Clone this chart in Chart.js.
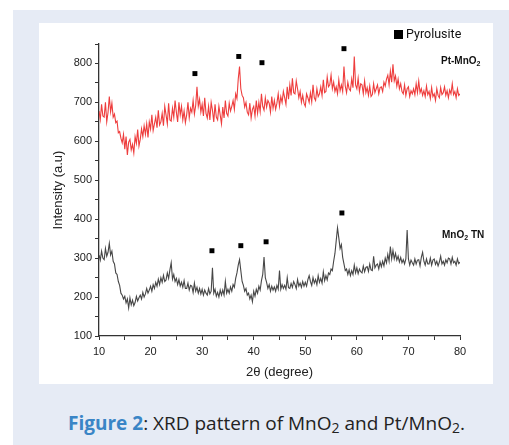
<!DOCTYPE html>
<html>
<head>
<meta charset="utf-8">
<script src="https://cdn.jsdelivr.net/npm/chart.js@4.4.0/dist/chart.umd.min.js"></script>
<style>
  body { margin: 0; width: 509px; height: 445px; background: #fff; overflow: hidden; position: relative; }
  #panel { position: absolute; left: 13px; top: 10px; width: 496px; height: 435px; background: #e6ebf5; }
  #box { position: absolute; left: 39px; top: 23px; width: 454px; height: 361px; background: #fff; }
  #xrd { position: absolute; left: 39px; top: 23px; }
  .tag { position: absolute; font: bold 10px "Liberation Sans", Arial, sans-serif; color: #111; white-space: nowrap; }
  .tag sub { font-size: 7px; vertical-align: -2px; }
  #legend { position: absolute; left: 394px; top: 26px; font: 12.5px Roboto, Arial, sans-serif; color: #111; white-space: nowrap; line-height: 16px; }
  #legend span { display: inline-block; width: 9px; height: 9px; background: #000; margin-right: 3px; vertical-align: -1px; }
  #caption { position: absolute; left: 0; width: 533px; top: 410px; text-align: center;
             font: 19px "Open Sans", sans-serif; color: #222; white-space: nowrap; }
  #caption b { color: #3a85c6; font-weight: 700; }
  #caption sub { font-size: 14px; vertical-align: -3px; }
</style>
</head>
<body>
<div id="panel"></div>
<div id="box"></div>
<canvas id="xrd" width="454" height="361"></canvas>
<div id="legend"><span></span>Pyrolusite</div>
<div class="tag" style="left:441px; top:55px;">Pt-MnO<sub>2</sub></div>
<div class="tag" style="left:442px; top:229px;">MnO<sub>2</sub> TN</div>
<div id="caption"><b>Figure 2</b>: XRD pattern of MnO<sub>2</sub> and Pt/MnO<sub>2</sub>.</div>
<script>
// 2theta (degree), one row per degree
const twoTheta = [
  10, 10.25, 10.5, 10.75,  11, 11.25, 11.5, 11.75,  12, 12.25, 12.5, 12.75,  13, 13.25, 13.5, 13.75,
  14, 14.25, 14.5, 14.75,  15, 15.25, 15.5, 15.75,  16, 16.25, 16.5, 16.75,  17, 17.25, 17.5, 17.75,
  18, 18.25, 18.5, 18.75,  19, 19.25, 19.5, 19.75,  20, 20.25, 20.5, 20.75,  21, 21.25, 21.5, 21.75,
  22, 22.25, 22.5, 22.75,  23, 23.25, 23.5, 23.75,  24, 24.25, 24.5, 24.75,  25, 25.25, 25.5, 25.75,
  26, 26.25, 26.5, 26.75,  27, 27.25, 27.5, 27.75,  28, 28.25, 28.5, 28.75,  29, 29.25, 29.5, 29.75,
  30, 30.25, 30.5, 30.75,  31, 31.25, 31.5, 31.75,  32, 32.25, 32.5, 32.75,  33, 33.25, 33.5, 33.75,
  34, 34.25, 34.5, 34.75,  35, 35.25, 35.5, 35.75,  36, 36.25, 36.5, 36.75,  37, 37.25, 37.5, 37.75,
  38, 38.25, 38.5, 38.75,  39, 39.25, 39.5, 39.75,  40, 40.25, 40.5, 40.75,  41, 41.25, 41.5, 41.75,
  42, 42.25, 42.5, 42.75,  43, 43.25, 43.5, 43.75,  44, 44.25, 44.5, 44.75,  45, 45.25, 45.5, 45.75,
  46, 46.25, 46.5, 46.75,  47, 47.25, 47.5, 47.75,  48, 48.25, 48.5, 48.75,  49, 49.25, 49.5, 49.75,
  50, 50.25, 50.5, 50.75,  51, 51.25, 51.5, 51.75,  52, 52.25, 52.5, 52.75,  53, 53.25, 53.5, 53.75,
  54, 54.25, 54.5, 54.75,  55, 55.25, 55.5, 55.75,  56, 56.25, 56.5, 56.75,  57, 57.25, 57.5, 57.75,
  58, 58.25, 58.5, 58.75,  59, 59.25, 59.5, 59.75,  60, 60.25, 60.5, 60.75,  61, 61.25, 61.5, 61.75,
  62, 62.25, 62.5, 62.75,  63, 63.25, 63.5, 63.75,  64, 64.25, 64.5, 64.75,  65, 65.25, 65.5, 65.75,
  66, 66.25, 66.5, 66.75,  67, 67.25, 67.5, 67.75,  68, 68.25, 68.5, 68.75,  69, 69.25, 69.5, 69.75,
  70, 70.25, 70.5, 70.75,  71, 71.25, 71.5, 71.75,  72, 72.25, 72.5, 72.75,  73, 73.25, 73.5, 73.75,
  74, 74.25, 74.5, 74.75,  75, 75.25, 75.5, 75.75,  76, 76.25, 76.5, 76.75,  77, 77.25, 77.5, 77.75,
  78, 78.25, 78.5, 78.75,  79, 79.25, 79.5, 79.75,  80
];

// Pt-MnO2 intensity (red trace)
const ptMnO2 = [
  678, 656, 695, 665,  662, 700, 650, 674,  715, 676, 698, 662,  670, 648, 652, 622,
  625, 608, 596, 618,  580, 612, 565, 598,  605, 578, 592, 570,  612, 595, 630, 588,
  605, 632, 612, 640,  618, 645, 610, 650,  632, 668, 628, 645,  662, 635, 680, 642,
  650, 672, 640, 690,  668, 645, 698, 655,  652, 685, 662, 705,  675, 650, 700, 668,
  690, 655, 678, 648,  668, 700, 660, 685,  675, 705, 670, 692,  740, 690, 708, 675,
  695, 665, 712, 672,  660, 690, 655, 700,  680, 650, 695, 662,  655, 690, 668, 645,
  688, 660, 705, 672,  665, 698, 678, 690,  705, 682, 722, 710,  760, 792, 735, 718,
  712, 688, 700, 675,  668, 698, 660, 682,  690, 665, 705, 672,  700, 676, 722, 690,
  680, 712, 688, 705,  698, 675, 715, 685,  705, 682, 698, 722,  690, 715, 700, 728,
  712, 695, 740, 708,  745, 718, 762, 725,  722, 755, 735, 712,  728, 700, 718, 698,
  690, 722, 712, 700,  725, 702, 745, 712,  705, 735, 715, 722,  740, 718, 758, 725,
  728, 765, 740, 745,  770, 735, 752, 728,  740, 722, 758, 730,  745, 728, 792, 742,
  725, 752, 735, 730,  760, 738, 818, 745,  735, 762, 728, 748,  745, 722, 755, 725,
  738, 718, 742, 715,  720, 748, 725, 735,  745, 722, 738, 740,  728, 752, 742, 760,
  770, 745, 780, 752,  798, 755, 768, 742,  760, 735, 748, 728,  722, 745, 718, 735,
  740, 715, 730, 722,  735, 720, 748, 725,  755, 725, 735, 718,  730, 715, 742, 720,
  728, 710, 738, 715,  722, 705, 735, 718,  712, 738, 720, 725,  740, 718, 730, 712,
  732, 722, 748, 720,  728, 712, 735, 718,  722
];

// MnO2 TN intensity (grey trace)
const mnO2TN = [
  308, 295, 318, 300,  296, 325, 305, 315,  338, 308, 318, 292,  285, 262, 258, 240,
  230, 210, 205, 195,  202, 185, 195, 172,  198, 180, 192, 178,  186, 202, 190, 198,
  205, 195, 212, 200,  208, 222, 210, 218,  228, 215, 232, 222,  238, 228, 246, 232,
  250, 238, 256, 240,  244, 262, 248, 270,  288, 246, 258, 240,  248, 232, 245, 228,
  238, 225, 242, 222,  222, 236, 218, 230,  228, 212, 236, 215,  225, 210, 222, 208,
  220, 205, 218, 210,  205, 222, 208, 215,  275, 210, 220, 202,  212, 200, 218, 205,
  218, 205, 240, 210,  220, 210, 226, 215,  232, 225, 248, 262,  282, 296, 268, 240,
  230, 215, 222, 205,  210, 195, 205, 188,  215, 202, 220, 210,  228, 218, 242, 258,
  303, 250, 238, 222,  232, 215, 228, 218,  226, 215, 230, 220,  268, 220, 232, 222,
  230, 220, 250, 224,  222, 235, 225, 240,  232, 222, 245, 228,  236, 225, 240, 228,
  238, 228, 245, 255,  240, 230, 250, 236,  245, 232, 255, 238,  248, 236, 265, 242,
  255, 244, 262, 258,  272, 268, 292, 312,  345, 378, 352, 325,  335, 302, 285, 268,
  272, 258, 270, 255,  268, 258, 282, 262,  275, 260, 272, 265,  262, 280, 265, 276,
  278, 266, 285, 270,  268, 305, 275, 282,  285, 272, 290, 278,  292, 280, 300, 288,
  310, 292, 330, 298,  320, 298, 312, 295,  305, 290, 302, 288,  296, 285, 298, 372,
  298, 282, 295, 288,  282, 298, 285, 295,  296, 280, 302, 315,  292, 282, 298, 285,
  285, 300, 282, 295,  298, 284, 292, 280,  290, 305, 285, 292,  282, 296, 288, 300,
  298, 285, 302, 288,  292, 282, 298, 286,  290
];

// pyrolusite reflections marked above each trace
const pyroTopX = [28.6, 37.1, 41.6, 57.5];
const pyroTopY = [774, 818, 802, 838];
const pyroLowX = [31.9, 37.5, 42.4, 57.1];
const pyroLowY = [319, 332, 342, 416];

const xTicks = [10, 20, 30, 40, 50, 60, 70, 80];
const yTicks = [100, 200, 300, 400, 500, 600, 700, 800];

const toPoints = (xs, ys) => xs.map((x, i) => ({ x: x, y: ys[i] }));
const markers = toPoints(pyroTopX, pyroTopY).concat(toPoints(pyroLowX, pyroLowY));

const axisFont = { family: '"Liberation Sans", Arial, sans-serif', size: 11 };

const ctx = document.getElementById('xrd').getContext('2d');
const xrdChart = new Chart(ctx, {
    type: 'line',
    data: {
        datasets: [
            {
                label: 'Pt-MnO2',
                data: toPoints(twoTheta, ptMnO2),
                borderColor: '#ee3d3d',
                borderWidth: 1.1,
                pointRadius: 0,
                tension: 0
            },
            {
                label: 'MnO2 TN',
                data: toPoints(twoTheta, mnO2TN),
                borderColor: '#474747',
                borderWidth: 1.1,
                pointRadius: 0,
                tension: 0
            },
            {
                label: 'Pyrolusite',
                type: 'scatter',
                data: markers,
                pointStyle: 'rect',
                pointRadius: 3.5,
                backgroundColor: '#000',
                borderColor: '#000',
                borderWidth: 0
            }
        ]
    },
    options: {
        responsive: false,
        animation: false,
        devicePixelRatio: 1,
        layout: { padding: { left: 0, right: 33, top: 21, bottom: 0 } },
        plugins: {
            tooltip: { enabled: false },
            legend: { display: false }
        },
        scales: {
            x: {
                type: 'linear',
                min: 10,
                max: 80,
                ticks: {
                    stepSize: 5,
                    color: '#222',
                    font: axisFont,
                    padding: 5,
                    maxRotation: 0,
                    autoSkip: false,
                    callback: v => xTicks.includes(v) ? v : ''
                },
                grid: { drawOnChartArea: false, tickLength: 4, tickColor: '#333' },
                border: { color: '#333', width: 1.3 },
                title: { display: true, text: '2θ (degree)', color: '#222', font: { family: axisFont.family, size: 13 }, padding: { top: 6 } },
                afterFit: s => { s.height = 48; }
            },
            y: {
                min: 100,
                max: 850,
                ticks: {
                    stepSize: 50,
                    color: '#222',
                    font: axisFont,
                    padding: 3,
                    autoSkip: false,
                    callback: v => yTicks.includes(v) ? v : ''
                },
                grid: { drawOnChartArea: false, tickLength: 4, tickColor: '#333' },
                border: { color: '#333', width: 1.3 },
                title: { display: true, text: 'Intensity (a.u)', color: '#222', font: { family: axisFont.family, size: 13 }, padding: { top: 12, bottom: 0 } },
                afterFit: s => { s.width = 60; }
            }
        }
    }
});
</script>
</body>
</html>
